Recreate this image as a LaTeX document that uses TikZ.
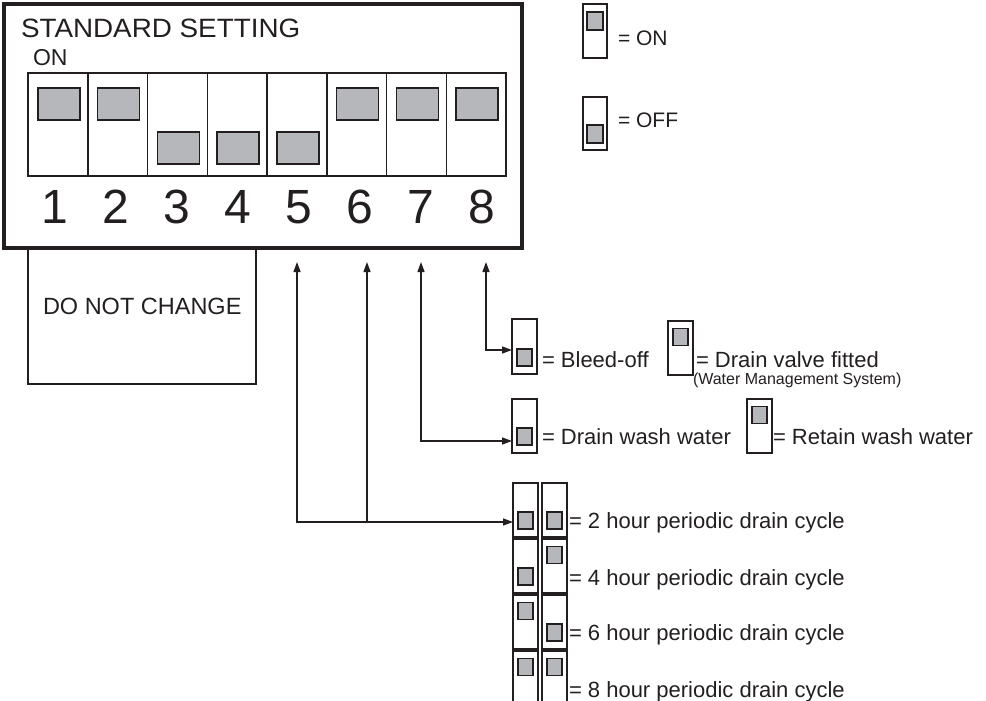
\documentclass[tikz,border=0pt]{standalone}
\usepackage{fontspec}
\setmainfont{Liberation Sans}
\usetikzlibrary{arrows.meta}
\definecolor{ink}{HTML}{231F20}
\definecolor{knobgray}{HTML}{B5B7BA}
\newcommand{\fs}[1]{\fontsize{#1}{#1}\selectfont}
\tikzset{
  swbox/.style={draw=ink, line width=1.5pt, fill=white, minimum width=25pt, inner sep=0pt, outer sep=0pt},
  knob/.style={draw=ink, line width=1.5pt, fill=knobgray, minimum width=15pt, minimum height=17pt, inner sep=0pt, outer sep=0pt},
  bigknob/.style={draw=ink, line width=1.5pt, fill=knobgray, minimum width=42pt, minimum height=32pt, inner sep=0pt, outer sep=0pt},
  cell/.style={draw=ink, line width=1.5pt, minimum width=59.75pt, minimum height=103pt, inner sep=0pt, outer sep=0pt, anchor=north west},
  lbl/.style={anchor=base west, inner sep=0pt, outer sep=0pt, text=ink},
  arr/.style={draw=ink, line width=1.3pt, {Triangle[length=10pt,width=7pt]}-{Triangle[length=10pt,width=7pt]}},
  arrs/.style={draw=ink, line width=1.3pt, {Triangle[length=10pt,width=7pt]}-},
}
% name, x, top y, state (1 on / 0 off), height
\newcommand{\dipsw}[5]{%
  \node[swbox, minimum height=#5pt, anchor=north west] (#1) at (#2,#3) {};
  \ifnum#4=1
    \node[knob, anchor=north] (#1k) at ([yshift=-7.5pt]#1.north) {};
  \else
    \node[knob, anchor=south] (#1k) at ([yshift=8pt]#1.south) {};
  \fi}
\begin{document}
\begin{tikzpicture}[x=1pt,y=-1pt]
\useasboundingbox (0,0) rectangle (986,701);
% main board
\node[draw=ink, line width=3.5pt, minimum width=518pt, minimum height=244pt, inner sep=0pt, outer sep=0pt, anchor=north west] (board) at (4,4) {};
\node[lbl, xscale=1.05] (title) at (21,38) {\fs{26.5}STANDARD SETTING};
\node[lbl] (onlbl) at (33,66) {\fs{23}ON};
\foreach \i/\st in {1/1,2/1,3/0,4/0,5/0,6/1,7/1,8/1} {
  \node[cell] (c\i) at ({28+(\i-1)*59.75},73) {};
  \ifnum\st=1
    \node[bigknob, anchor=north] at ([xshift=1pt,yshift=-15pt]c\i.north) {};
  \else
    \node[bigknob, anchor=south] at ([xshift=1pt,yshift=12pt]c\i.south) {};
  \fi
  \node[anchor=base, inner sep=0pt, text=ink] (n\i) at ({55+(\i-1)*61},223) {\fs{48}\i};
}
% do not change box
\node[draw=ink, line width=1.5pt, minimum width=228pt, minimum height=136pt, inner sep=0pt, outer sep=0pt, anchor=north west] (dnc) at (28,248) {};
\node[lbl] at (43,314) {\fs{23.5}DO NOT CHANGE};
% legend
\node[swbox, minimum width=24pt, minimum height=54pt, anchor=north west] (lon) at (583,4) {};
\node[knob, minimum width=16pt, minimum height=18pt, anchor=north] at ([yshift=-8pt]lon.north) {};
\node[lbl] at (618,46) {\fs{21}= ON};
\node[swbox, minimum width=24pt, minimum height=53pt, anchor=north west] (loff) at (583,97) {};
\node[knob, minimum width=16pt, minimum height=18pt, anchor=south] at ([yshift=7pt]loff.south) {};
\node[lbl] at (618,128) {\fs{21}= OFF};
% switch 8
\dipsw{bleed}{512}{319}{0}{55}
\node[lbl] at (542,367) {\fs{22}= Bleed-off};
\dipsw{valve}{668}{321}{1}{54}
\node[lbl] at (696,367) {\fs{22}= Drain valve fitted};
\node[lbl] at (693,384) {\fs{16}(Water Management System)};
% switch 7
\dipsw{drainw}{512}{399}{0}{54}
\node[lbl] at (542,444) {\fs{22}= Drain wash water};
\dipsw{retainw}{747}{399}{1}{54}
\node[lbl] at (773,444) {\fs{22}= Retain wash water};
% switches 5 and 6
\dipsw{p1a}{513}{483}{0}{54}
\dipsw{p1b}{542}{483}{0}{54}
\dipsw{p2a}{513}{539}{0}{54}
\dipsw{p2b}{542}{539}{1}{54}
\dipsw{p3a}{513}{595}{1}{54}
\dipsw{p3b}{542}{595}{0}{54}
\dipsw{p4a}{513}{651}{1}{54}
\dipsw{p4b}{542}{651}{1}{54}
\node[lbl] at (569,528) {\fs{22}= 2 hour periodic drain cycle};
\node[lbl] at (569,585) {\fs{22}= 4 hour periodic drain cycle};
\node[lbl] at (569,640) {\fs{22}= 6 hour periodic drain cycle};
\node[lbl] at (569,697) {\fs{22}= 8 hour periodic drain cycle};
% connectors
\coordinate (t5) at (297,262);
\coordinate (t6) at (367,262);
\coordinate (t7) at (421,262);
\coordinate (t8) at (486,262);
\coordinate (e8) at ([yshift=-3.5pt]bleed.west);
\coordinate (e7) at ([yshift=-15pt]drainw.west);
\coordinate (e56) at ([yshift=-12pt]p1a.west);
\coordinate (j6) at (t6 |- e56);
\draw[arr] (t8) |- (e8);
\draw[arr] (t7) |- (e7);
\draw[arr] (t5) |- (e56);
\draw[arrs] (t6) -- (j6);
\end{tikzpicture}
\end{document}
